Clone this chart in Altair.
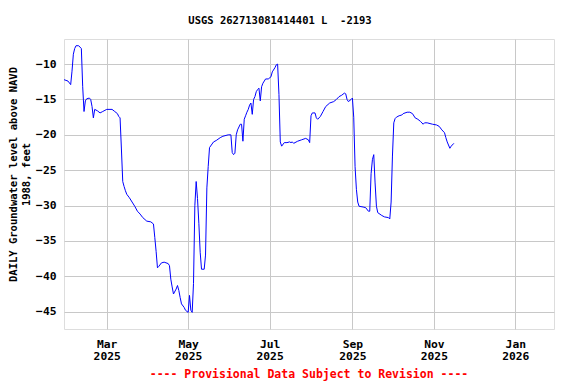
import altair as alt
import pandas as pd

# Day of year 2025 (1 = Jan 1) and daily groundwater level (ft above NAVD 1988)
day_of_year = [28, 31, 33, 34, 35, 36, 37, 39, 41, 42, 43, 44, 45, 47, 48, 49, 50, 51, 53, 55,
               57, 60, 64, 66, 68, 69, 70, 71, 72, 73, 74, 75, 77, 79, 81, 83, 85, 87, 90, 93,
               95, 96, 97, 98, 99, 101, 103, 106, 107, 108, 109, 110, 112, 113, 114, 115, 116, 118, 119, 121,
               122, 123, 124, 125, 126, 127, 128, 129, 130, 131, 133, 134, 135, 136, 137, 140, 142, 145, 147, 151,
               153, 154, 155, 156, 157, 158, 160, 161, 162, 163, 164, 165, 166, 167, 168, 169, 170, 171, 172, 173,
               174, 175, 176, 177, 179, 181, 183, 184, 186, 187, 188, 189, 190, 191, 193, 195, 197, 198, 199, 200,
               203, 206, 209, 211, 212, 213, 214, 216, 217, 218, 220, 222, 224, 227, 230, 232, 234, 236, 238, 239,
               240, 241, 243, 244, 245, 246, 247, 248, 249, 252, 254, 256, 257, 258, 259, 260, 261, 262, 263, 266,
               268, 271, 272, 273, 274, 275, 276, 277, 279, 281, 282, 285, 287, 289, 291, 293, 295, 297, 298, 300,
               304, 307, 309, 311, 313, 314, 315, 317, 318, 320]
level = [-12.2, -12.4, -12.9, -11.0, -8.6, -7.8, -7.4, -7.4, -7.8, -13.2, -16.7, -15.2, -14.9, -14.8, -15.0, -16.0, -17.6, -16.4, -16.6, -16.9,
         -16.7, -16.4, -16.4, -16.7, -17.0, -17.4, -17.6, -22.0, -26.6, -27.3, -27.9, -28.4, -28.9, -29.5, -30.1, -30.8, -31.2, -31.7, -32.2, -32.3,
         -32.6, -34.5, -36.5, -38.8, -38.6, -38.1, -38.0, -38.2, -38.5, -40.4, -41.5, -42.5, -41.8, -41.3, -42.0, -43.0, -43.9, -44.4, -44.8, -45.1,
         -42.7, -44.8, -45.1, -41.0, -30.0, -26.6, -29.0, -32.5, -36.6, -39.0, -39.0, -37.0, -27.5, -24.5, -21.8, -21.0, -20.8, -20.4, -20.2, -20.0,
         -20.0, -22.5, -22.8, -22.6, -20.0, -19.3, -18.5, -18.5, -20.9, -17.8, -17.3, -16.8, -16.4, -15.8, -15.5, -17.1, -15.0, -14.6, -13.9, -13.6,
         -13.4, -15.2, -13.2, -12.7, -12.1, -12.1, -11.8, -11.1, -10.5, -10.1, -10.0, -14.3, -21.0, -21.6, -21.1, -21.1, -21.0, -21.1, -21.0, -21.2,
         -20.9, -20.7, -20.5, -20.7, -21.1, -17.3, -16.9, -16.9, -17.6, -17.8, -17.4, -16.7, -16.0, -15.5, -15.3, -15.0, -14.6, -14.4, -14.1, -14.2,
         -15.0, -15.3, -15.0, -14.8, -17.5, -24.5, -27.7, -29.5, -30.1, -30.2, -30.3, -30.8, -30.8, -25.5, -23.5, -22.8, -26.8, -30.1, -31.0, -31.4,
         -31.6, -31.7, -31.9, -29.5, -23.0, -18.3, -17.7, -17.5, -17.3, -17.2, -17.0, -16.8, -16.8, -17.0, -17.6, -17.8, -18.1, -18.5, -18.3, -18.3,
         -18.5, -18.6, -18.8, -19.3, -19.7, -20.4, -21.0, -21.9, -21.6, -21.2]

y_ticks = [-10, -15, -20, -25, -30, -35, -40, -45]
x_ticks = [(2025, 3), (2025, 5), (2025, 7), (2025, 9), (2025, 11), (2026, 1)]
title_text = "USGS 262713081414401 L\u00a0\u00a0-2193"
y_title = ["DAILY Groundwater level above NAVD", "1988, feet"]
footer_text = "---- Provisional Data Subject to Revision ----"

dates = pd.Timestamp("2024-12-31") + pd.to_timedelta(day_of_year, unit="D")
df = pd.DataFrame({"date": dates, "level": level})

FONT = "DejaVu Sans Mono"

x_enc = alt.X(
    "date:T",
    scale=alt.Scale(domain=[alt.DateTime(year=2025, month=1, date=28),
                            alt.DateTime(year=2026, month=1, date=30)]),
    axis=alt.Axis(
        title=None,
        values=[alt.DateTime(year=y, month=m, date=1) for y, m in x_ticks],
        labelExpr="[timeFormat(datum.value, '%b'), timeFormat(datum.value, '%Y')]",
        grid=True, ticks=False, domain=False,
        labelPadding=9, labelLineHeight=12.5,
        labelFont=FONT, labelFontSize=11.3, labelFontWeight="bold", labelColor="black",
        gridColor="#c8c8c8", gridWidth=1,
    ),
)
y_enc = alt.Y(
    "level:Q",
    scale=alt.Scale(domain=[-47.45, -6.45], nice=False, zero=False),
    axis=alt.Axis(
        title=y_title,
        values=y_ticks,
        grid=True, ticks=False, domain=False,
        labelPadding=8,
        labelFont=FONT, labelFontSize=11.3, labelFontWeight="bold", labelColor="black",
        titleFont=FONT, titleFontSize=10.5, titleFontWeight="bold", titleColor="black",
        titleX=-51, titleY=135, titleBaseline="middle", titleLineHeight=13,
        gridColor="#c8c8c8", gridWidth=1,
    ),
)

line = alt.Chart(df).mark_line(color="#0000ff", strokeWidth=1, clip=True).encode(x=x_enc, y=y_enc)

footer = alt.Chart(pd.DataFrame({"t": [footer_text]})).mark_text(
    font=FONT, fontSize=11.5, fontWeight="bold", color="#ff0000", align="center", baseline="middle"
).encode(text="t:N", x=alt.value(245), y=alt.value(336))

chart = alt.layer(line, footer).properties(
    width=490,
    height=290,
    title=alt.TitleParams(title_text, font=FONT, fontSize=10.5, fontWeight="bold", color="black",
                          anchor="middle", frame="group", dx=-29, offset=8, baseline="middle"),
    autosize=alt.AutoSizeParams(type="none"),
    padding={"left": 56, "top": 31, "right": 14, "bottom": 54},
).configure_view(stroke="black", strokeWidth=1.2).configure(background="white")

chart.save("out.html", embed_options={"renderer": "svg", "actions": False})
